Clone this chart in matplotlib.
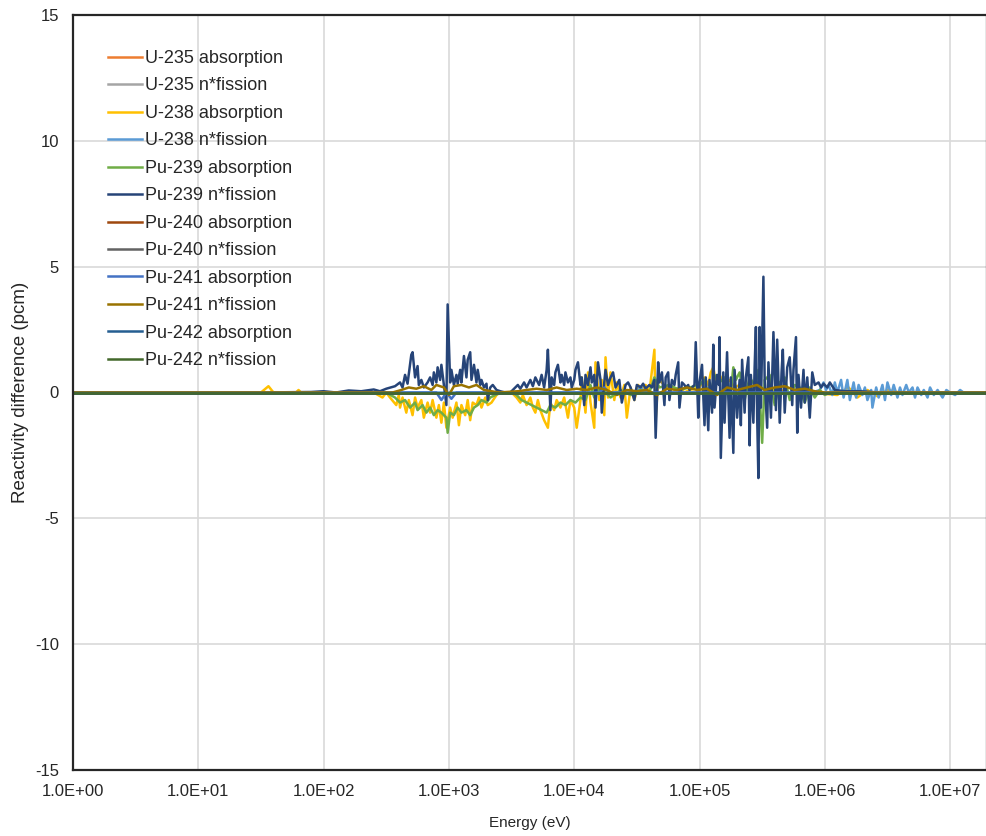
import numpy as np
import matplotlib
matplotlib.use("Agg")
import matplotlib.pyplot as plt
from matplotlib.ticker import FixedLocator, FixedFormatter

plt.rcParams["font.family"] = ["Liberation Sans", "DejaVu Sans"]

# energies stored as log10(E / eV), values in pcm
u235_abs_lgE = [0.0, 7.3]
u235_abs_val = [0.0, 0.0]
u235_nf_lgE = [0.0, 7.3]
u235_nf_val = [0.0, 0.0]

u238_abs_lgE = [0.0, 1.5, 1.56, 1.6, 1.78, 1.8, 1.82, 2.4, 2.47, 2.5,
                2.53, 2.58, 2.60, 2.61, 2.63, 2.66, 2.68, 2.71, 2.73, 2.75,
                2.78, 2.80, 2.83, 2.85, 2.87, 2.90, 2.92, 2.94, 2.96, 2.98,
                3.01, 3.03, 3.06, 3.08, 3.10, 3.13, 3.15, 3.17, 3.19, 3.22,
                3.24, 3.26, 3.29, 3.31, 3.34, 3.38, 3.41, 3.50,
                3.54, 3.57, 3.59, 3.62, 3.65, 3.67, 3.69, 3.71, 3.73, 3.76,
                3.79, 3.81, 3.84, 3.86, 3.89, 3.92, 3.95, 3.97, 4.00, 4.02,
                4.05, 4.06, 4.09, 4.11, 4.13, 4.16, 4.17, 4.20, 4.22, 4.24,
                4.25, 4.27, 4.29, 4.32, 4.34, 4.37, 4.40, 4.42, 4.45, 4.48,
                4.51, 4.54, 4.57, 4.60, 4.64, 4.65, 4.67, 4.70, 4.73, 4.76,
                4.80, 4.84, 4.88, 4.92,
                5.00, 5.04, 5.07, 5.09, 5.11, 5.13, 5.16, 5.20, 5.24, 5.28,
                5.32, 5.40, 5.48, 5.56, 5.64, 5.72, 5.80, 5.88,
                6.10, 6.19, 6.26, 6.34, 6.42, 6.50, 6.60, 7.3]
u238_abs_val = [0.0, 0.0, 0.25, 0.0, 0.0, 0.1, 0.0, 0.0, -0.2, 0.0,
                -0.2, -0.5, -0.1, -0.6, -0.2, -0.8, -0.3, -0.9, -0.2, -0.6,
                -0.3, -1.0, -0.4, -0.8, -0.3, -1.0, -0.5, -1.2, -0.4, -1.4,
                -0.6, -1.0, -0.4, -1.3, -0.5, -0.9, -0.3, -1.1, -0.4, -0.5,
                -0.2, -0.6, -0.2, -0.5, -0.4, -0.1, 0.0, 0.0,
                -0.2, -0.4, -0.1, -0.5, -0.2, -0.6, -0.8, -0.3, -0.7, -1.1,
                -1.4, -0.4, -0.7, -0.3, -0.6, -0.2, -1.0, -0.3, -0.6, -1.4,
                -0.3, 0.6, -0.8, 0.8, -0.4, -1.4, 1.2, -0.3, 0.5, -0.9,
                1.4, -0.2, 0.8, -0.3, 0.4, -0.2, 0.3, -1.0, 0.2, -0.3,
                0.3, 0.1, 0.3, 0.0, 1.7, -1.1, 0.5, 0.4, 0.2, 0.3,
                0.1, 0.2, 0.0, 0.1,
                0.2, 0.6, 0.3, 0.8, 1.0, 0.4, 0.7, 0.3, 0.5, 0.2,
                0.3, 0.1, 0.2, 0.1, 0.1, 0.0, 0.1, 0.0,
                -0.1, 0.2, -0.2, 0.1, -0.15, 0.1, 0.0, 0.0]

u238_nf_lgE = [0.0, 4.50, 4.53, 4.56, 5.90, 5.96, 5.99, 6.01, 6.03, 6.06,
               6.08, 6.10, 6.13, 6.15, 6.18, 6.20, 6.23, 6.25, 6.27, 6.30,
               6.32, 6.34, 6.37, 6.38, 6.41, 6.43, 6.46, 6.48, 6.50, 6.53,
               6.55, 6.58, 6.60, 6.62, 6.65, 6.67, 6.70, 6.72, 6.74, 6.77,
               6.79, 6.82, 6.84, 6.87, 6.90, 6.94, 6.97, 7.00, 7.04, 7.08,
               7.12, 7.16, 7.3]
u238_nf_val = [0.0, 0.0, 0.25, 0.0, 0.0, 0.1, 0.4, 0.1, 0.3, -0.1,
               0.4, 0.0, 0.5, -0.2, 0.5, -0.3, 0.4, -0.2, 0.3, -0.1,
               0.2, -0.3, 0.1, -0.6, 0.2, -0.2, 0.3, -0.3, 0.4, -0.1,
               0.3, -0.2, 0.2, -0.1, 0.3, 0.0, 0.2, -0.2, 0.2, -0.1,
               0.1, -0.2, 0.2, -0.1, 0.1, -0.2, 0.1, 0.0, -0.1, 0.1,
               -0.05, 0.0, 0.0]

pu239_abs_lgE = [0.0, 2.5, 2.57, 2.61, 2.65, 2.69, 2.73, 2.75, 2.79, 2.82,
                 2.85, 2.88, 2.91, 2.94, 2.98, 2.99, 3.01, 3.04, 3.07, 3.10,
                 3.14, 3.17, 3.20, 3.23, 3.26, 3.30, 3.33, 3.37, 3.41, 3.50,
                 3.54, 3.58, 3.62, 3.66, 3.70, 3.74, 3.78, 3.81, 3.85, 3.89,
                 3.93, 3.97, 4.01, 4.05, 4.09, 4.13, 4.16, 4.21, 4.29, 4.37,
                 4.45, 4.53, 4.60, 4.64, 4.68, 4.76, 4.84, 4.92,
                 5.00, 5.04, 5.08, 5.12, 5.16, 5.20, 5.24, 5.27, 5.29, 5.32,
                 5.36, 5.40, 5.44, 5.47, 5.50, 5.52, 5.56, 5.60, 5.64, 5.68,
                 5.72, 5.76, 5.80, 5.84, 5.88, 5.92, 5.96, 6.00, 6.04, 7.3]
pu239_abs_val = [0.0, 0.0, -0.2, -0.4, -0.3, -0.6, -0.4, -0.7, -0.5, -0.8,
                 -0.6, -0.9, -0.7, -0.8, -1.0, -1.6, -0.8, -0.9, -0.6, -0.8,
                 -0.7, -0.9, -0.6, -0.5, -0.3, -0.4, -0.2, -0.1, 0.0, 0.0,
                 -0.1, -0.3, -0.4, -0.5, -0.6, -0.7, -0.8, -0.5, -0.6, -0.4,
                 -0.5, -0.3, -0.4, -0.2, -0.3, 0.3, -0.2, 0.2, -0.2, 0.1,
                 -0.1, 0.1, 0.0, 0.6, 0.2, 0.3, 0.1, 0.2,
                 0.3, 0.5, -0.3, 0.7, 0.4, 0.6, -0.4, 1.0, 0.5, 0.8,
                 -0.3, 0.6, 0.3, 0.9, -2.0, 0.5, 0.7, -0.5, 0.4, 0.6,
                 -0.3, 0.3, 0.2, -0.4, 0.2, -0.2, 0.1, -0.1, 0.0, 0.0]

pu239_nf_lgE = [0.0, 1.5, 1.9, 2.0, 2.1, 2.2, 2.3, 2.4, 2.45, 2.5,
                2.57, 2.61, 2.63, 2.65, 2.67, 2.70, 2.71, 2.73, 2.75, 2.76,
                2.78, 2.80, 2.83, 2.85, 2.87, 2.88, 2.90, 2.91, 2.93, 2.94,
                2.96, 2.98, 2.99, 3.01, 3.02, 3.04, 3.06, 3.07, 3.09, 3.10,
                3.12, 3.14, 3.15, 3.17, 3.18, 3.20, 3.22, 3.23, 3.25, 3.26,
                3.28, 3.30, 3.31, 3.33, 3.35, 3.38, 3.41, 3.45, 3.49,
                3.53, 3.55, 3.57, 3.60, 3.62, 3.65, 3.67, 3.69, 3.72, 3.74,
                3.76, 3.78, 3.79, 3.81, 3.82, 3.84, 3.85, 3.87, 3.89, 3.90,
                3.92, 3.93, 3.95, 3.97, 3.98, 4.00, 4.01, 4.03, 4.05, 4.06,
                4.08, 4.09, 4.11, 4.13, 4.14, 4.16, 4.17, 4.19, 4.21, 4.22,
                4.24, 4.25, 4.27, 4.29, 4.31, 4.33, 4.36, 4.38, 4.41, 4.43,
                4.45, 4.48, 4.50, 4.53, 4.55, 4.57, 4.60, 4.62, 4.64, 4.65,
                4.67, 4.68, 4.70, 4.72, 4.73, 4.75, 4.76, 4.78, 4.80, 4.81,
                4.83, 4.84, 4.86, 4.88, 4.89, 4.91, 4.92, 4.94, 4.96, 4.97,
                4.99, 5.00,
                5.02, 5.04, 5.05, 5.07, 5.08, 5.10, 5.11, 5.12, 5.14, 5.155,
                5.16, 5.17, 5.19, 5.20, 5.22, 5.24, 5.25, 5.27, 5.28, 5.30,
                5.32, 5.33, 5.34, 5.36, 5.37, 5.39, 5.40, 5.41, 5.43, 5.44,
                5.45, 5.46, 5.47, 5.48, 5.49, 5.51, 5.52, 5.54, 5.55, 5.57,
                5.58, 5.59, 5.61, 5.62, 5.64, 5.655, 5.665, 5.68, 5.70, 5.72,
                5.74, 5.75, 5.77, 5.78, 5.79, 5.81, 5.83, 5.84, 5.86, 5.88,
                5.90, 5.92, 5.95, 5.97, 5.99, 6.02, 6.04,
                6.08, 6.16, 6.28, 6.44, 7.3]
pu239_nf_val = [0.0, 0.0, 0.02, 0.05, 0.0, 0.08, 0.05, 0.12, 0.05, 0.15,
                0.25, 0.4, 0.2, 0.7, 0.35, 1.5, 1.6, 0.6, 1.05, 0.3,
                0.5, 0.2, 0.4, 0.6, 0.3, 0.8, 0.4, 1.0, 0.5, 1.1,
                0.3, -0.5, 3.5, 0.4, 0.9, 0.3, 0.7, 0.35, 0.9, 0.4,
                1.45, 0.6, 1.3, 1.6, 0.5, 1.1, 0.4, 0.9, 0.3, 0.5,
                0.2, 0.35, -0.3, 0.2, 0.3, 0.1, 0.05, 0.0, 0.0,
                0.2, 0.3, 0.15, 0.4, 0.2, 0.5, 0.25, 0.6, 0.3, 0.7,
                0.2, 0.9, 1.7, -0.7, 0.6, 0.3, 0.8, 1.1, 0.4, 0.7,
                0.3, 0.8, 0.4, 0.6, 0.2, 0.5, 0.9, 1.2, 0.3, 0.6,
                -0.5, 0.7, 0.3, 1.0, 0.4, 0.7, -0.6, 1.2, 0.5, -0.8,
                0.4, 0.9, 0.3, 0.6, 0.8, 0.2, 0.5, -0.4, 0.3, 0.4,
                0.2, -0.3, 0.3, 0.2, 0.35, 0.15, 0.3, 0.2, 0.5, -1.8,
                1.2, 0.4, 0.8, -0.5, 0.6, 0.8, -0.3, 0.5, 0.3, 0.7,
                1.2, -0.6, 0.4, 0.3, 0.2, 0.3, 0.1, 0.2, 0.3, 2.0,
                -1.0, 0.4,
                1.1, -1.3, 0.6, -1.5, 0.5, -0.8, 1.9, -0.6, 0.7, 0.3,
                2.2, -2.6, 0.8, -1.2, 1.6, -1.8, 0.6, -2.4, 0.9, -1.0,
                0.5, -1.3, 1.3, -0.8, 0.6, 1.4, -2.1, 0.7, -1.2, 1.0,
                2.6, -0.9, -3.4, 2.6, -0.6, 4.6, 0.5, -1.4, 1.2, -1.0,
                0.6, 2.4, -0.7, 2.1, -1.2, 0.8, 1.7, -0.8, 1.0, 1.4,
                -0.5, 0.9, 2.2, -1.6, 0.7, -0.6, 0.9, -0.4, 0.6, -1.0,
                0.8, 0.3, 0.4, 0.2, 0.35, 0.2, 0.4,
                0.1, 0.05, 0.05, 0.0, 0.0]

pu240_abs_lgE = [0.0, 7.3]
pu240_abs_val = [0.0, 0.0]
pu240_nf_lgE = [0.0, 7.3]
pu240_nf_val = [0.0, 0.0]

pu241_abs_lgE = [0.0, 2.90, 2.94, 2.98, 3.02, 3.06, 3.10, 4.20, 4.24, 4.28, 7.3]
pu241_abs_val = [0.0, 0.0, -0.3, 0.0, -0.25, 0.0, 0.0, 0.0, 0.2, 0.0, 0.0]

pu241_nf_lgE = [0.0, 2.55, 2.62, 2.68, 2.74, 2.80, 2.86, 2.90, 2.96, 3.00,
                3.04, 3.10, 3.16, 3.22, 3.28, 3.34, 3.40, 3.55, 3.62, 3.70,
                3.78, 3.86, 3.94, 4.02, 4.10, 4.18, 4.26, 4.34, 4.42, 4.50,
                4.58, 4.66, 4.74, 4.82, 4.90, 4.98, 5.06, 5.14, 5.22, 5.30,
                5.38, 5.46, 5.52, 5.60, 5.68, 5.76, 5.84, 5.92, 6.00, 7.3]
pu241_nf_val = [0.0, 0.0, 0.1, 0.2, 0.15, 0.25, 0.1, 0.3, 0.2, -0.1,
                0.25, 0.3, 0.2, 0.3, 0.1, 0.05, 0.0, 0.05, 0.1, 0.15,
                0.1, 0.2, 0.1, 0.15, 0.1, 0.2, 0.1, -0.1, 0.1, 0.05,
                0.1, -0.1, 0.15, 0.1, 0.2, 0.1, 0.15, -0.1, 0.2, 0.1,
                0.2, 0.3, 0.1, 0.2, 0.25, 0.1, 0.15, 0.05, 0.0, 0.0]

pu242_abs_lgE = [0.0, 7.3]
pu242_abs_val = [0.0, 0.0]
pu242_nf_lgE = [0.0, 7.3]
pu242_nf_val = [0.0, 0.0]

series = [
    ("U-235 absorption", u235_abs_lgE, u235_abs_val, "#ED7D31"),
    ("U-235 n*fission", u235_nf_lgE, u235_nf_val, "#A5A5A5"),
    ("U-238 absorption", u238_abs_lgE, u238_abs_val, "#FFC000"),
    ("U-238 n*fission", u238_nf_lgE, u238_nf_val, "#5B9BD5"),
    ("Pu-239 absorption", pu239_abs_lgE, pu239_abs_val, "#70AD47"),
    ("Pu-239 n*fission", pu239_nf_lgE, pu239_nf_val, "#264478"),
    ("Pu-240 absorption", pu240_abs_lgE, pu240_abs_val, "#9E480E"),
    ("Pu-240 n*fission", pu240_nf_lgE, pu240_nf_val, "#636363"),
    ("Pu-241 absorption", pu241_abs_lgE, pu241_abs_val, "#4472C4"),
    ("Pu-241 n*fission", pu241_nf_lgE, pu241_nf_val, "#997300"),
    ("Pu-242 absorption", pu242_abs_lgE, pu242_abs_val, "#255E91"),
    ("Pu-242 n*fission", pu242_nf_lgE, pu242_nf_val, "#43682B"),
]

xticks = [1e0, 1e1, 1e2, 1e3, 1e4, 1e5, 1e6, 1e7]
xtick_labels = ["1.0E+00", "1.0E+01", "1.0E+02", "1.0E+03",
                "1.0E+04", "1.0E+05", "1.0E+06", "1.0E+07"]
yticks = [-15, -10, -5, 0, 5, 10, 15]
ytick_labels = ["-15", "-10", "-5", "0", "5", "10", "15"]

fig = plt.figure(figsize=(9.87, 8.36), dpi=100)
ax = fig.add_axes([73 / 987, 1 - 770 / 836, 1 - 73 / 987, (770 - 15) / 836])

for name, lgE, vals, col in series:
    ax.plot(10 ** np.array(lgE), vals, color=col, lw=1.8, label=name)

ax.set_xscale("log")
ax.set_xlim(1, 1.97e7)
ax.set_ylim(-15, 15)
ax.xaxis.set_major_locator(FixedLocator(xticks))
ax.xaxis.set_major_formatter(FixedFormatter(xtick_labels))
ax.xaxis.set_minor_locator(FixedLocator([]))
ax.yaxis.set_major_locator(FixedLocator(yticks))
ax.yaxis.set_major_formatter(FixedFormatter(ytick_labels))
ax.grid(True, color="#D9D9D9", lw=1.2)
ax.set_axisbelow(True)
ax.tick_params(length=0, labelsize=12, colors="#262626", pad=10)
ax.tick_params(axis="y", pad=10)
for s in ax.spines.values():
    s.set_color("#262626")
    s.set_linewidth(1.6)

ax.set_xlabel("Energy (eV)", fontsize=11, color="#262626", labelpad=12)
ax.set_ylabel("Reactivity difference (pcm)", fontsize=13.5, color="#262626")
ax.yaxis.set_label_coords(-44 / 914, 0.5)

leg = ax.legend(loc="upper left", bbox_to_anchor=(108 / 987, 1 - 50 / 836),
                bbox_transform=fig.transFigure, frameon=False, fontsize=13,
                handlelength=1.9, handletextpad=0.15, labelspacing=0.58,
                borderaxespad=0, borderpad=0)
for t in leg.get_texts():
    t.set_color("#262626")

fig.savefig("out.png", dpi=100)
